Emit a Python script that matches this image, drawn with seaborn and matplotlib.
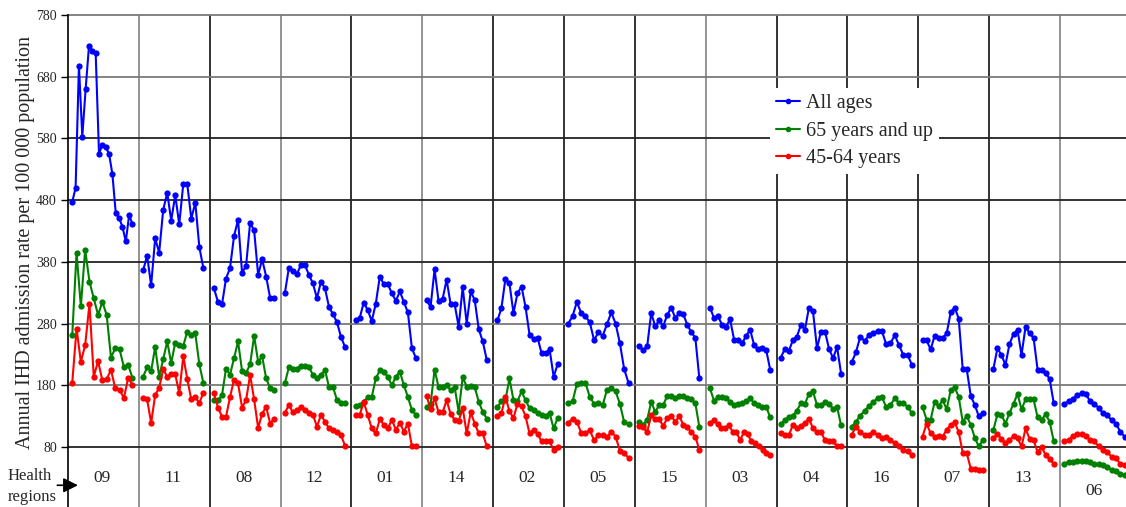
import numpy as np
import pandas as pd
import matplotlib
matplotlib.use("Agg")
import matplotlib.pyplot as plt
from matplotlib.lines import Line2D
import seaborn as sns

# health regions, left to right
regions = ['09', '11', '08', '12', '01', '14', '02', '05', '15', '03', '04', '16', '07', '13', '06']

# annual IHD admission rate per 100 000, one list per region
all_ages = [
    [477, 500, 698, 583, 660, 730, 722, 718, 555, 570, 566, 555, 522, 459, 451, 437, 413, 456, 441],
    [366, 390, 342, 418, 395, 464, 492, 447, 488, 441, 506, 506, 450, 476, 404, 370],
    [337, 315, 311, 353, 370, 422, 448, 362, 374, 443, 431, 359, 384, 356, 321, 321],
    [329, 370, 365, 360, 375, 375, 359, 345, 321, 348, 337, 307, 295, 282, 258, 242],
    [285, 289, 314, 302, 284, 312, 356, 344, 344, 329, 317, 332, 315, 298, 240, 224],
    [318, 307, 368, 316, 320, 351, 311, 311, 275, 339, 280, 332, 318, 271, 251, 221],
    [285, 305, 353, 345, 297, 329, 340, 307, 262, 255, 257, 232, 232, 238, 194, 214],
    [280, 292, 315, 297, 292, 282, 253, 266, 260, 279, 298, 280, 248, 206, 184],
    [243, 237, 243, 297, 276, 285, 276, 294, 306, 289, 297, 295, 278, 266, 257, 191],
    [306, 289, 292, 278, 275, 287, 254, 254, 248, 260, 270, 245, 238, 241, 237, 205],
    [225, 239, 236, 253, 259, 278, 270, 306, 300, 240, 267, 267, 239, 224, 242, 199],
    [217, 234, 259, 252, 261, 265, 268, 268, 247, 248, 261, 245, 229, 229, 213],
    [253, 253, 238, 260, 256, 257, 264, 298, 306, 288, 206, 206, 163, 148, 130, 135],
    [207, 240, 229, 213, 247, 263, 270, 229, 275, 264, 257, 205, 205, 200, 190, 152],
    [150, 154, 158, 164, 167, 166, 154, 150, 143, 135, 132, 123, 118, 105, 97],
]

age_65_up = [
    [261, 395, 308, 400, 348, 321, 294, 315, 294, 225, 240, 238, 210, 213, 192],
    [194, 209, 203, 242, 194, 222, 251, 216, 249, 246, 244, 267, 261, 264, 214, 184],
    [156, 156, 164, 207, 197, 224, 251, 203, 200, 214, 260, 218, 227, 191, 175, 173],
    [183, 209, 206, 207, 212, 212, 209, 197, 192, 197, 205, 177, 177, 156, 151, 152],
    [146, 148, 153, 161, 161, 191, 204, 202, 194, 180, 194, 202, 180, 161, 140, 132],
    [145, 150, 205, 177, 178, 180, 172, 177, 137, 193, 178, 179, 177, 153, 137, 126],
    [145, 154, 156, 191, 156, 154, 170, 156, 143, 140, 135, 132, 130, 135, 110, 127],
    [151, 154, 182, 183, 184, 161, 150, 151, 148, 173, 175, 170, 150, 120, 118],
    [121, 116, 124, 153, 137, 148, 148, 163, 163, 159, 163, 163, 160, 157, 151, 112],
    [175, 155, 161, 161, 160, 153, 148, 150, 151, 155, 159, 151, 148, 145, 145, 128],
    [117, 124, 128, 131, 139, 151, 150, 166, 170, 148, 148, 153, 150, 142, 145, 115],
    [113, 121, 131, 139, 146, 153, 159, 161, 145, 148, 159, 151, 151, 145, 135],
    [145, 124, 124, 153, 146, 156, 141, 172, 177, 161, 121, 130, 116, 95, 81, 91],
    [108, 133, 132, 118, 135, 150, 166, 141, 157, 157, 157, 128, 124, 133, 121, 90],
    [53, 56, 56, 57, 58, 57, 56, 53, 52, 51, 48, 43, 41, 36, 34],
]

age_45_64 = [
    [184, 272, 218, 245, 312, 194, 219, 188, 190, 205, 175, 173, 159, 192, 181],
    [159, 157, 119, 164, 176, 206, 194, 199, 198, 167, 227, 190, 157, 161, 151, 168],
    [167, 144, 129, 129, 161, 189, 183, 144, 156, 197, 157, 111, 134, 145, 118, 126],
    [135, 148, 136, 140, 145, 140, 135, 132, 113, 132, 121, 110, 108, 104, 99, 82],
    [132, 132, 153, 132, 110, 102, 125, 116, 110, 124, 108, 119, 105, 118, 81, 82],
    [163, 141, 159, 136, 136, 156, 133, 124, 122, 143, 102, 136, 118, 102, 102, 81],
    [130, 135, 161, 138, 127, 150, 146, 130, 102, 108, 101, 89, 89, 89, 75, 80],
    [119, 126, 121, 103, 103, 107, 91, 99, 99, 96, 105, 97, 74, 71, 62],
    [114, 112, 104, 132, 125, 125, 114, 127, 130, 121, 130, 116, 112, 104, 97, 75],
    [119, 123, 118, 110, 110, 115, 105, 104, 91, 104, 101, 89, 86, 81, 75, 71, 67],
    [102, 99, 99, 116, 110, 114, 119, 126, 110, 104, 104, 91, 89, 89, 81, 81],
    [100, 113, 104, 100, 100, 104, 100, 95, 97, 92, 86, 81, 75, 73, 67],
    [97, 118, 102, 97, 98, 97, 108, 116, 120, 104, 71, 70, 45, 45, 42, 42],
    [94, 101, 93, 87, 91, 98, 94, 81, 110, 93, 91, 72, 80, 67, 60, 53],
    [90, 91, 98, 101, 101, 98, 91, 89, 81, 75, 72, 64, 62, 53, 51],
]

series_names = ['All ages', '65 years and up', '45-64 years']
series_colors = ['#0000ff', '#008000', '#ff0000']
y_ticks = [80, 180, 280, 380, 480, 580, 680, 780]

# long table: each region gets one unit of x, points spread inside it
rows = []
for name, data in zip(series_names, [all_ages, age_65_up, age_45_64]):
    for i, reg in enumerate(regions):
        vals = data[i]
        xs = i + np.linspace(0.06, 0.91, len(vals))
        for x, v in zip(xs, vals):
            rows.append({'x': x, 'rate': v, 'series': name, 'region': reg})
df = pd.DataFrame(rows)

sns.set_style('white')
plt.rcParams['font.family'] = ['Liberation Serif', 'DejaVu Serif']

fig = plt.figure(figsize=(11.26, 5.07), dpi=100)
ax = fig.add_axes([68 / 1126, 0, 1058 / 1126, 492 / 507])

# grid
dark_v = {2, 4, 6, 7, 8, 10, 11, 12, 13}
for k in range(1, 15):
    ax.axvline(k, color='#222222' if k in dark_v else '#8a8a8a', lw=1.3, zorder=0)
dark_h = {80, 380, 480, 580}
for t in y_ticks:
    ax.axhline(t, color='#222222' if t in dark_h else '#7a7a7a', lw=1.3, zorder=0, clip_on=False)

sns.lineplot(data=df, x='x', y='rate', hue='series', units='region', estimator=None,
             sort=False, palette=series_colors, marker='o', markersize=4.5,
             markeredgewidth=0, linewidth=1.5, legend=False, ax=ax)

ax.set_xlim(0, 1058 / 70.86)
ax.set_ylim(80 - 60 * 700 / 432, 780)
ax.set_yticks(y_ticks)
ax.set_xticks([])
ax.tick_params(axis='y', direction='out', length=5, width=1, color='black', labelsize=10, pad=3)
ax.tick_params(left=True)
for s in ['top', 'right', 'bottom']:
    ax.spines[s].set_visible(False)
ax.spines['left'].set_color('black')
ax.spines['left'].set_linewidth(1.2)
ax.set_xlabel('')
ax.set_ylabel('Annual IHD admission rate per 100 000 population', fontsize=14.5)
ax.yaxis.set_label_coords(-0.031, 0.537)

# region labels in the bottom row
for i, reg in enumerate(regions):
    ax.text(i + 0.48, 8 if reg == '06' else 30, reg, ha='center', va='center', fontsize=12.5)

fig.text(8 / 1126, 1 - 476 / 507, 'Health', ha='left', va='center', fontsize=12)
fig.text(8 / 1126, 1 - 497 / 507, 'regions', ha='left', va='center', fontsize=12)
ax.annotate('', xy=(0.18, 18), xytext=(-0.19, 18), annotation_clip=False,
            arrowprops=dict(arrowstyle='-|>', color='black', lw=1.2, mutation_scale=22))

handles = [Line2D([], [], color=c, marker='o', markersize=3, lw=1.5) for c in series_colors]
leg = ax.legend(handles, series_names, loc='upper left', bbox_to_anchor=(770 / 1126, 1 - 88 / 507),
                bbox_transform=fig.transFigure, fontsize=14.5, frameon=True, fancybox=False,
                framealpha=1, facecolor='white', edgecolor='none', borderpad=0.3,
                labelspacing=0.42, handlelength=1.2, handletextpad=0.3, borderaxespad=0)
leg.set_zorder(5)

fig.savefig('out.png', dpi=100)
